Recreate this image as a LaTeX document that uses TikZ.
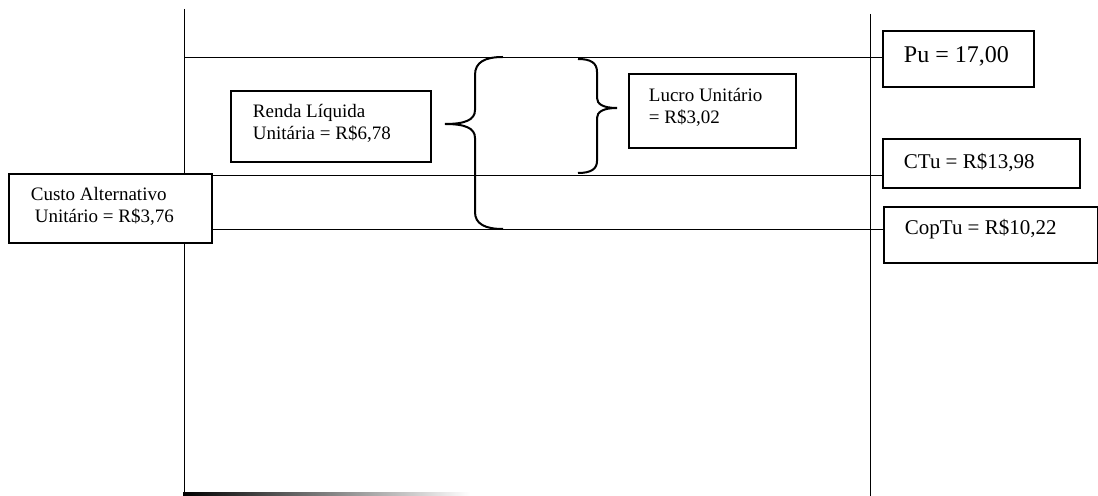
\documentclass[tikz,border=0pt]{standalone}
\usepackage{fontspec}
\setmainfont{Liberation Serif}
\usetikzlibrary{backgrounds}
\begin{document}
\begin{tikzpicture}[x=0.5pt,y=-0.5pt,line width=0.9pt,
  box/.style={draw,fill=white,line width=1pt,inner sep=0pt,anchor=north west},
  txt/.style={anchor=west,inner sep=0pt,align=left,font=\fontsize{9.5}{11}\selectfont},
  brace/.style={draw,line width=1pt}]
\path[use as bounding box] (0,0) rectangle (1098,496);
% boxes
\node[box,minimum width=100pt,minimum height=35.5pt] (renda) at (230,90) {};
\node[box,minimum width=83.5pt,minimum height=37pt] (lucro) at (628,73) {};
\node[box,minimum width=101.5pt,minimum height=34.5pt] (custo) at (8,173) {};
\node[box,minimum width=75.5pt,minimum height=28pt] (pu) at (882,30) {};
\node[box,minimum width=98.5pt,minimum height=24.5pt] (ctu) at (882,138) {};
\node[box,minimum width=107pt,minimum height=28pt] (cop) at (883,206) {};
% texts
\node[txt] (rendat) at (252,123) {Renda Líquida\\Unitária = R\$6,78};
\node[txt] (lucrot) at (648,107) {Lucro Unitário\\= R\$3,02};
\node[txt] (custot) at (30,206) {Custo Alternativo\\\hspace{2pt}Unitário = R\$3,76};
\node[txt,font=\fontsize{12}{14}\selectfont] (put) at (903,56) {Pu = 17,00};
\node[txt,font=\fontsize{10.5}{12}\selectfont] (ctut) at (903,163) {CTu = R\$13,98};
\node[txt,font=\fontsize{10.5}{12}\selectfont] (copt) at (904,229) {CopTu = R\$10,22};
\begin{scope}[on background layer]
  \coordinate (lt) at (184,9); \coordinate (lb) at (184,494);
  \coordinate (rt) at (870,14); \coordinate (rb) at (870,496);
  \draw (lt) -- (lb);
  \draw (rt) -- (rb);
  \coordinate (pA) at (184,57);
  \draw (pA) -- (pA -| pu.west);
  \coordinate (cA) at (184,175);
  \draw (cA) -- (cA -| ctu.west);
  \coordinate (oA) at (184,229);
  \draw (oA) -- (oA -| cop.west);
  \shade[left color=black,middle color=black!75,right color=white] (183,492.5) rectangle (470,495.5);
  % big left brace
  \draw[brace] (503,57) .. controls (485,57) and (475,62) .. (475,75)
     -- (475,110) .. controls (475,120) and (465,124) .. (445,124)
     .. controls (465,124) and (475,128) .. (475,138)
     -- (475,212) .. controls (475,224) and (485,229) .. (503,229);
  % right brace
  \draw[brace] (578,59) .. controls (591,59) and (597,63) .. (597,72)
     -- (597,98) .. controls (597,104) and (603,108) .. (617,108)
     .. controls (603,108) and (597,112) .. (597,118)
     -- (597,161) .. controls (597,169) and (591,173) .. (578,173);
\end{scope}
\end{tikzpicture}
\end{document}
